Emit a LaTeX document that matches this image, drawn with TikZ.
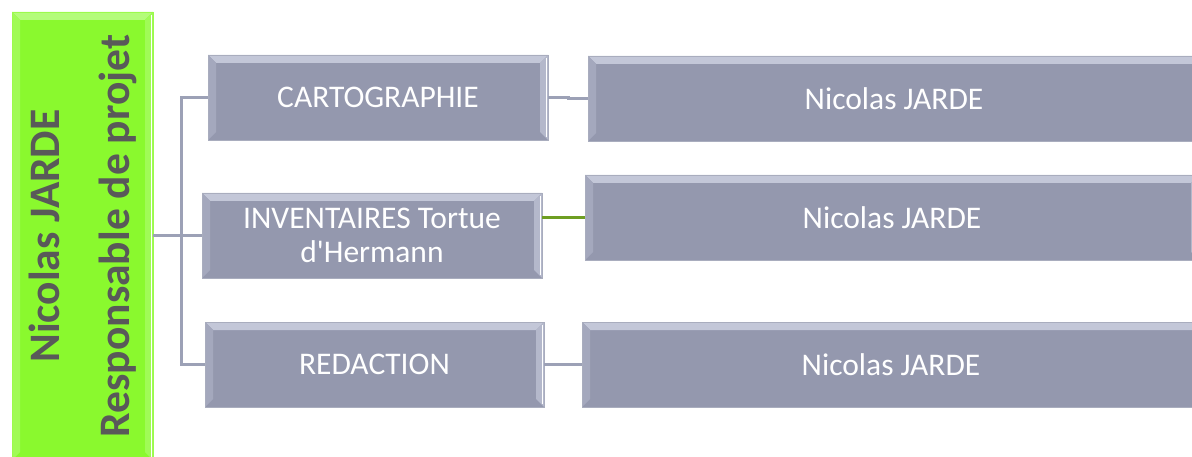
\documentclass[tikz,border=0pt]{standalone}
\usepackage{fontspec}
\setmainfont{Carlito}
\usetikzlibrary{calc}
\definecolor{boxfill}{HTML}{9498AE}
\definecolor{boxlight}{HTML}{C3C7D8}
\definecolor{boxside}{HTML}{A4A8BD}
\definecolor{boxright}{HTML}{B4B8CB}
\definecolor{linegray}{HTML}{9CA1B6}
\definecolor{leadgreen}{HTML}{8AF92E}
\definecolor{leadlight}{HTML}{B4FC7A}
\definecolor{leadside}{HTML}{A0FB56}
\definecolor{linegreen}{HTML}{6E9E22}
\definecolor{leadtext}{HTML}{595959}
\tikzset{
  bevel/.style n args={3}{path picture={
    \fill[#1] (path picture bounding box.north west) -- (path picture bounding box.north east)
      -- ++(-8pt,-8pt) -- ($(path picture bounding box.north west)+(8pt,-8pt)$) -- cycle;
    \fill[#2] (path picture bounding box.north west) -- ++(8pt,-8pt)
      -- ($(path picture bounding box.south west)+(8pt,8pt)$) -- (path picture bounding box.south west) -- cycle;
    \fill[#3] (path picture bounding box.north east) -- ++(-8pt,-8pt)
      -- ($(path picture bounding box.south east)+(-8pt,8pt)$) -- (path picture bounding box.south east) -- cycle;
    \draw[white,line width=1pt] ($(path picture bounding box.north east)+(-1.5pt,-3pt)$) -- ($(path picture bounding box.south east)+(-1.5pt,3pt)$);
  }},
  taskbox/.style={rectangle, inner sep=0pt, fill=boxfill, draw=boxfill!80!white, line width=0.6pt,
    text=white, font=\fontsize{31.5}{34}\selectfont, align=center,
    bevel={boxlight}{boxside}{boxright}},
  leadbox/.style={rectangle, inner sep=0pt, fill=leadgreen, draw=leadgreen!85!white, line width=0.6pt,
    bevel={leadlight}{leadside}{leadside}},
  conn/.style={draw=linegray, line width=3pt},
  greenconn/.style={draw=linegreen, line width=3pt},
}
\begin{document}
\begin{tikzpicture}[x=1pt,y=-1pt]
\useasboundingbox (0,0) rectangle (1192,457);
% lead
\node[leadbox, minimum width=141pt, minimum height=448pt] (lead) at (82.5,236) {};
\node[rotate=90, text=leadtext, font=\bfseries\fontsize{43.5}{70}\selectfont, align=center] (leadtxt) at (lead.center) {Nicolas JARDE\\Responsable de projet};
% middle column
\node[taskbox, minimum width=340pt, minimum height=85pt] (b1) at (378,97.5) {CARTOGRAPHIE};
\node[taskbox, minimum width=340pt, minimum height=85pt] (b2) at (372,235.5) {INVENTAIRES Tortue\\d\textquotesingle Hermann};
\node[taskbox, minimum width=339pt, minimum height=85pt] (b3) at (374.5,364.5) {REDACTION};
% right column
\node[taskbox, minimum width=612pt, minimum height=85pt] (r1) at (894,98.5) {Nicolas JARDE};
\node[taskbox, minimum width=614pt, minimum height=85pt] (r2) at (892,217.5) {Nicolas JARDE};
\node[taskbox, minimum width=618pt, minimum height=85pt] (r3) at (891,364.5) {Nicolas JARDE};
\coordinate (trunk) at (181,235.5);
% connectors
\draw[conn] (lead.east |- b2.west) -- (b2.west);
\draw[conn] (b1.west) -| (trunk) |- (b3.west);
\draw[conn] (b1.east) -- ++(20pt,0) |- (r1.west);
\draw[greenconn] (r2.west -| b2.east) -- (r2.west);
\draw[conn] (b3.east) -- ++(20pt,0) |- (r3.west);
\end{tikzpicture}
\end{document}
